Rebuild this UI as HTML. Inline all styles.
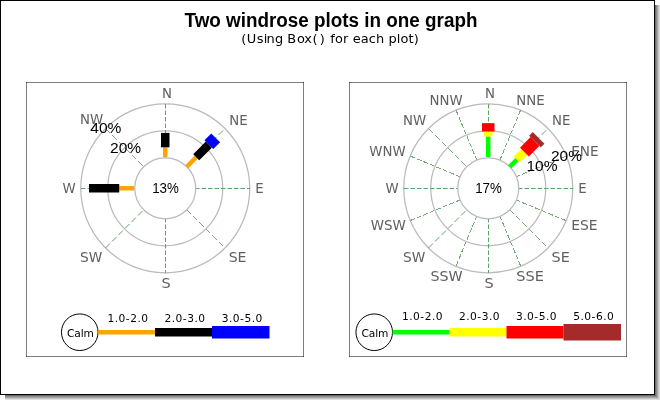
<!DOCTYPE html>
<html lang="en"><head><meta charset="utf-8"><title>Two windrose plots in one graph</title>
<style>
html,body{margin:0;padding:0;background:#fff;}
body{width:660px;height:400px;overflow:hidden;position:relative;}
svg{display:block;position:absolute;left:0;top:0;}
text{text-anchor:middle;}
.title{font-family:"Liberation Sans",Arial,Helvetica,sans-serif;font-weight:bold;font-size:18.67px;fill:#000;}
.sub{font-family:"DejaVu Sans",Verdana,"Liberation Sans",sans-serif;font-size:12px;fill:#000;}
.cl{font-family:"DejaVu Sans",Verdana,"Liberation Sans",sans-serif;font-size:13.33px;fill:#606060;}
.pl{font-family:"Liberation Sans",Arial,Helvetica,sans-serif;font-size:14px;fill:#000;}
.ct{font-family:"Liberation Sans",Arial,Helvetica,sans-serif;font-size:13.33px;fill:#000;}
.lg{font-family:"DejaVu Sans",Verdana,"Liberation Sans",sans-serif;font-size:10.67px;fill:#000;}
</style></head><body>
<svg width="660" height="400" viewBox="0 0 660 400">
<rect x="0" y="0" width="660" height="400" fill="#fff"/>
<g shape-rendering="crispEdges">
<path d="M5 396 H656 V5 H655 V395 H5 Z" fill="#6e6e6e"/>
<path d="M5 397 H657 V5 H656 V396 H5 Z" fill="#8b8b8b"/>
<path d="M5 398 H658 V5 H657 V397 H5 Z" fill="#a7a7a7"/>
<path d="M5 399 H659 V5 H658 V398 H5 Z" fill="#c3c3c3"/>
<path d="M5 400 H660 V5 H659 V399 H5 Z" fill="#e0e0e0"/>
</g>
<rect x="0.5" y="0.5" width="654" height="394" fill="#fff" stroke="#000" stroke-width="1"/>
<text transform="translate(331 27.4) scale(1.011 1.04)" class="title">Two windrose plots in one graph</text>
<text transform="translate(330.1 43.2) scale(1.08 1)" class="sub" dx="0 0 0 0 -1.2 -0.09 0 -0.93 0.37 -0.46 0.09 1.76 0 0.46"><tspan letter-spacing="0.38">(Using Box() </tspan><tspan letter-spacing="0.1">for each plot)</tspan></text>
<g>
<g fill="#000" fill-opacity="0.5">
<rect x="26" y="82" width="278" height="1"/>
<rect x="26" y="356" width="278" height="1"/>
<rect x="26" y="82" width="1" height="275"/>
<rect x="303" y="82" width="1" height="275"/>
</g>
<circle cx="165.25" cy="188.25" r="57.5" fill="none" stroke="#bababa" stroke-width="1.25"/>
<circle cx="165.25" cy="188.25" r="84.5" fill="none" stroke="#bababa" stroke-width="1.25"/>
<line x1="195" y1="188.5" x2="250" y2="188.5" stroke="#5fa365" stroke-width="1" stroke-dasharray="4.5 2"/>
<line x1="186.11" y1="167.39" x2="225.001" y2="128.499" stroke="#5fa365" stroke-width="1" stroke-dasharray="6.364 2.828"/>
<line x1="165.5" y1="104" x2="165.5" y2="159" stroke="#5fa365" stroke-width="1" stroke-dasharray="4.5 2"/>
<line x1="105.749" y1="128.749" x2="144.64" y2="167.64" stroke="#72af78" stroke-width="1" stroke-dasharray="6.364 2.828" shape-rendering="crispEdges"/>
<line x1="81" y1="188.5" x2="136" y2="188.5" stroke="#5fa365" stroke-width="1" stroke-dasharray="4.5 2"/>
<line x1="105.499" y1="248.001" x2="144.39" y2="209.11" stroke="#5fa365" stroke-width="1" stroke-dasharray="6.364 2.828"/>
<line x1="165.5" y1="218" x2="165.5" y2="273" stroke="#5fa365" stroke-width="1" stroke-dasharray="4.5 2"/>
<line x1="186.36" y1="209.36" x2="225.251" y2="248.251" stroke="#72af78" stroke-width="1" stroke-dasharray="6.364 2.828" shape-rendering="crispEdges"/>
<circle cx="165.25" cy="188.25" r="30.5" fill="#fff" stroke="#bababa" stroke-width="1.25"/>
<polygon points="167.5,157 167.5,147.3 163,147.3 163,157" fill="#ffa500"/>
<polygon points="169.5,147.3 169.5,132.9 161,132.9 161,147.3" fill="#000000"/>
<polygon points="188.266,168.416 197.812,158.87 194.63,155.688 185.084,165.234" fill="#ffa500"/>
<polygon points="199.226,160.284 211.884,147.627 205.873,141.616 193.216,154.274" fill="#000000"/>
<polygon points="213.298,149.041 220.086,142.253 211.247,133.414 204.459,140.202" fill="#0000ff"/>
<polygon points="134,186 119.25,186 119.25,190.5 134,190.5" fill="#ffa500"/>
<polygon points="119.25,184 89,184 89,192.5 119.25,192.5" fill="#000000"/>
<text x="167" y="98" class="cl">N</text>
<text x="238.5" y="125" class="cl">NE</text>
<text x="259.5" y="193" class="cl">E</text>
<text transform="translate(237.6 262) scale(1.06 1)" class="cl">SE</text>
<text transform="translate(166 288) scale(1.08 1)" class="cl">S</text>
<text transform="translate(91.2 262) scale(1.03 1)" class="cl">SW</text>
<text x="69" y="193" class="cl">W</text>
<text x="91.7" y="123.5" class="cl">NW</text>
<text transform="translate(125.591 152.591) scale(1.11 0.98)" class="pl">20%</text>
<text transform="translate(105.799 133.499) scale(1.11 0.98)" class="pl">40%</text>
<text transform="translate(165.5 193.1) scale(1 1.03)" class="ct">13%</text>
<circle cx="79.75" cy="332.25" r="18.3" fill="#fff" stroke="#000" stroke-width="1"/>
<text x="80.45" y="336.75" class="lg" letter-spacing="-0.1">Calm</text>
<rect x="98" y="330" width="57" height="4.5" fill="#ffa500"/>
<text x="128" y="322.3" class="lg" letter-spacing="0.5">1.0-2.0</text>
<rect x="155" y="328" width="57" height="8.5" fill="#000000"/>
<text x="185" y="322.3" class="lg" letter-spacing="0.5">2.0-3.0</text>
<rect x="212" y="326" width="57.5" height="12.5" fill="#0000ff"/>
<text x="242.25" y="322.3" class="lg" letter-spacing="0.5">3.0-5.0</text>
</g>
<g>
<g fill="#000" fill-opacity="0.5">
<rect x="349" y="82" width="278" height="1"/>
<rect x="349" y="356" width="278" height="1"/>
<rect x="349" y="82" width="1" height="275"/>
<rect x="626" y="82" width="1" height="275"/>
</g>
<circle cx="488.25" cy="188.25" r="57.5" fill="none" stroke="#bababa" stroke-width="1.25"/>
<circle cx="488.25" cy="188.25" r="84.5" fill="none" stroke="#bababa" stroke-width="1.25"/>
<line x1="518" y1="188.5" x2="573" y2="188.5" stroke="#5fa365" stroke-width="1" stroke-dasharray="4.5 2"/>
<line x1="515.504" y1="176.961" x2="566.318" y2="155.913" stroke="#72af78" stroke-width="1" stroke-dasharray="4.871 2.165" shape-rendering="crispEdges"/>
<line x1="509.11" y1="167.39" x2="548.001" y2="128.499" stroke="#5fa365" stroke-width="1" stroke-dasharray="6.364 2.828"/>
<line x1="520.587" y1="110.182" x2="499.539" y2="160.996" stroke="#72af78" stroke-width="1" stroke-dasharray="4.871 2.165" shape-rendering="crispEdges"/>
<line x1="488.5" y1="104" x2="488.5" y2="159" stroke="#5fa365" stroke-width="1" stroke-dasharray="4.5 2"/>
<line x1="456.163" y1="110.432" x2="477.211" y2="161.246" stroke="#72af78" stroke-width="1" stroke-dasharray="4.871 2.165" shape-rendering="crispEdges"/>
<line x1="428.749" y1="128.749" x2="467.64" y2="167.64" stroke="#72af78" stroke-width="1" stroke-dasharray="6.364 2.828" shape-rendering="crispEdges"/>
<line x1="410.432" y1="156.163" x2="461.246" y2="177.211" stroke="#72af78" stroke-width="1" stroke-dasharray="4.871 2.165" shape-rendering="crispEdges"/>
<line x1="404" y1="188.5" x2="459" y2="188.5" stroke="#5fa365" stroke-width="1" stroke-dasharray="4.5 2"/>
<line x1="410.182" y1="220.587" x2="460.996" y2="199.539" stroke="#72af78" stroke-width="1" stroke-dasharray="4.871 2.165" shape-rendering="crispEdges"/>
<line x1="428.499" y1="248.001" x2="467.39" y2="209.11" stroke="#5fa365" stroke-width="1" stroke-dasharray="6.364 2.828"/>
<line x1="476.961" y1="215.504" x2="455.913" y2="266.318" stroke="#72af78" stroke-width="1" stroke-dasharray="4.871 2.165" shape-rendering="crispEdges"/>
<line x1="488.5" y1="218" x2="488.5" y2="273" stroke="#5fa365" stroke-width="1" stroke-dasharray="4.5 2"/>
<line x1="499.789" y1="215.754" x2="520.837" y2="266.568" stroke="#72af78" stroke-width="1" stroke-dasharray="4.871 2.165" shape-rendering="crispEdges"/>
<line x1="509.36" y1="209.36" x2="548.251" y2="248.251" stroke="#72af78" stroke-width="1" stroke-dasharray="6.364 2.828" shape-rendering="crispEdges"/>
<line x1="515.754" y1="199.789" x2="566.568" y2="220.837" stroke="#72af78" stroke-width="1" stroke-dasharray="4.871 2.165" shape-rendering="crispEdges"/>
<circle cx="488.25" cy="188.25" r="30.5" fill="#fff" stroke="#bababa" stroke-width="1.25"/>
<polygon points="490.5,157 490.5,136.5 486,136.5 486,157" fill="#00ff00"/>
<polygon points="492.5,136.5 492.5,131.5 484,131.5 484,136.5" fill="#ffff00"/>
<polygon points="494.5,131.5 494.5,123.15 482,123.15 482,131.5" fill="#ff0000"/>
<polygon points="511.266,168.416 518.55,161.132 515.368,157.95 508.084,165.234" fill="#00ff00"/>
<polygon points="519.964,162.547 527.459,155.051 521.449,149.041 513.953,156.536" fill="#ffff00"/>
<polygon points="528.873,156.466 539.409,145.93 530.57,137.091 520.034,147.627" fill="#ff0000"/>
<polygon points="540.823,147.344 544.43,143.738 532.762,132.07 529.156,135.677" fill="#a52a2a"/>
<text x="490" y="98" class="cl">N</text>
<text x="530.5" y="105" class="cl">NNE</text>
<text x="561.3" y="125" class="cl">NE</text>
<text transform="translate(584.8 156) scale(1.02 1)" class="cl">ENE</text>
<text x="582.5" y="193" class="cl">E</text>
<text transform="translate(584.3 230) scale(1.04 1)" class="cl">ESE</text>
<text transform="translate(560.7 261.6) scale(1.08 1)" class="cl">SE</text>
<text transform="translate(530 281) scale(1.09 1)" class="cl">SSE</text>
<text transform="translate(489 288) scale(1.08 1)" class="cl">S</text>
<text transform="translate(446.6 281) scale(1.07 1)" class="cl">SSW</text>
<text transform="translate(414.2 261.6) scale(1.03 1)" class="cl">SW</text>
<text transform="translate(388.2 230) scale(1.01 1)" class="cl">WSW</text>
<text x="392" y="193" class="cl">W</text>
<text x="387.5" y="156" class="cl">WNW</text>
<text x="414.5" y="124.5" class="cl">NW</text>
<text x="446" y="104.6" class="cl">NNW</text>
<text transform="translate(541.973 171.246) scale(1.11 0.98)" class="pl">10%</text>
<text transform="translate(566.418 161.113) scale(1.11 0.98)" class="pl">20%</text>
<text transform="translate(488.5 193.1) scale(1 1.03)" class="ct">17%</text>
<circle cx="374.25" cy="332.25" r="18.3" fill="#fff" stroke="#000" stroke-width="1"/>
<text x="374.95" y="336.75" class="lg" letter-spacing="-0.1">Calm</text>
<rect x="392.5" y="330" width="57" height="4.5" fill="#00ff00"/>
<text x="422.5" y="320.2" class="lg" letter-spacing="0.5">1.0-2.0</text>
<rect x="449.5" y="328" width="57" height="8.5" fill="#ffff00"/>
<text x="479.5" y="320.2" class="lg" letter-spacing="0.5">2.0-3.0</text>
<rect x="506.5" y="326" width="57" height="12.5" fill="#ff0000"/>
<text x="536.5" y="320.2" class="lg" letter-spacing="0.5">3.0-5.0</text>
<rect x="563.5" y="324" width="57.5" height="16.5" fill="#a52a2a"/>
<text x="593.75" y="320.2" class="lg" letter-spacing="0.5">5.0-6.0</text>
</g>
</svg>
</body></html>
